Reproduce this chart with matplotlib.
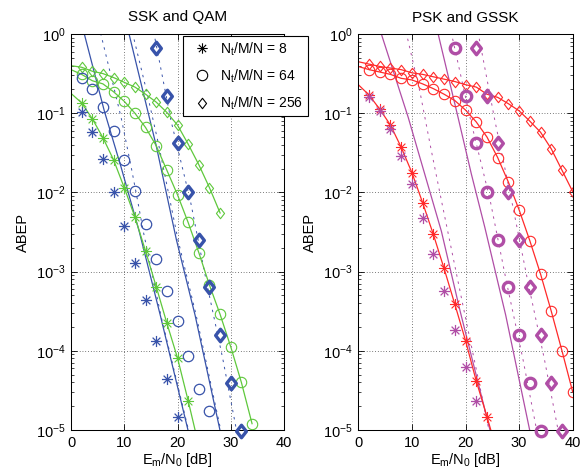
import numpy as np
import matplotlib
matplotlib.use("Agg")
import matplotlib.pyplot as plt
from matplotlib.path import Path
from matplotlib.lines import Line2D

plt.rcParams["font.family"] = ["Liberation Sans", "DejaVu Sans"]
plt.rcParams["mathtext.fontset"] = "custom"
plt.rcParams["mathtext.rm"] = "Liberation Sans"
plt.rcParams["mathtext.default"] = "regular"
plt.rcParams["font.size"] = 10

# ---------------- left panel: SSK (blue) and QAM (green) ----------------
# values are log10(ABEP)
ssk_sim8_x = np.arange(2, 21, 2)
ssk_sim8 = [-0.99, -1.24, -1.58, -1.99, -2.43, -2.89, -3.36, -3.88, -4.35, -4.84]
ssk_sim64_x = np.arange(2, 27, 2)
ssk_sim64 = [-0.55, -0.70, -0.92, -1.22, -1.59, -1.98, -2.40, -2.84, -3.25,
             -3.63, -4.07, -4.48, -4.76]
ssk_sim256_x = np.arange(16, 33, 2)
ssk_sim256 = [-0.18, -0.78, -1.38, -1.99, -2.60, -3.20, -3.80, -4.41, -5.01]

ssk_a_x = [2.0, 2.5, 6.25, 9.4, 12.8, 16.8, 22.0, 22.5]
ssk_a = [0.13, 0.0, -0.97, -1.68, -2.49, -3.56, -5.01, -5.14]
ssk_a_bound_x = [5.2, 5.6, 9.4, 11.3, 12.5, 13.6, 16.9, 22.1, 22.6]
ssk_a_bound = [0.1, 0.0, -1.05, -1.68, -2.1, -2.5, -3.56, -5.01, -5.14]
ssk_b_x = [10.5, 10.9, 13.5, 16.0, 19.8, 23.3, 28.0, 28.4]
ssk_b = [0.11, 0.0, -0.72, -1.41, -2.60, -3.55, -5.01, -5.13]
ssk_b_bound_x = [11.2, 11.6, 14.2, 16.5, 20.1, 23.5, 28.15, 28.5]
ssk_b_bound = [0.11, 0.0, -0.72, -1.41, -2.60, -3.55, -5.01, -5.12]
ssk_c_bound_x = [15.2, 15.6, 18.8, 22.4, 25.5, 28.5, 31.1, 31.5]
ssk_c_bound = [0.12, 0.0, -1.1, -2.1, -3.15, -4.1, -5.01, -5.14]

qam8_x = np.arange(0, 25, 2)
qam8 = [-0.75, -0.87, -1.07, -1.31, -1.59, -1.94, -2.31, -2.74, -3.19, -3.65,
        -4.09, -4.63, -5.2]
qam64_x = np.arange(0, 35, 2)
qam64 = [-0.45, -0.51, -0.59, -0.63, -0.73, -0.85, -1.0, -1.18, -1.41, -1.72,
         -2.03, -2.38, -2.76, -3.17, -3.54, -3.95, -4.40, -4.92]
qam256_x = np.arange(0, 29, 2)
qam256 = [-0.40, -0.42, -0.47, -0.50, -0.55, -0.61, -0.67, -0.76, -0.86, -0.99,
          -1.15, -1.39, -1.65, -1.94, -2.26]

# ---------------- right panel: PSK (red) and GSSK (magenta) ----------------
psk8_x = np.arange(0, 27, 2)
psk8 = [-0.64, -0.77, -0.95, -1.15, -1.43, -1.75, -2.13, -2.53, -2.96, -3.41,
        -3.87, -4.38, -4.83, -5.3]
psk64_x = np.arange(0, 41, 2)
psk64 = [-0.41, -0.45, -0.48, -0.51, -0.56, -0.58, -0.63, -0.69, -0.76, -0.84,
         -0.96, -1.11, -1.30, -1.56, -1.87, -2.22, -2.61, -3.03, -3.50, -4.0, -4.52]
psk256_x = np.arange(0, 41, 2)
psk256 = [-0.35, -0.38, -0.41, -0.43, -0.45, -0.49, -0.51, -0.54, -0.57, -0.60,
          -0.64, -0.67, -0.76, -0.80, -0.88, -0.97, -1.10, -1.24, -1.45, -1.72, -1.99]

gssk_sim8_x = np.arange(2, 23, 2)
gssk_sim8 = [-0.79, -0.97, -1.20, -1.54, -1.90, -2.32, -2.78, -3.24, -3.74, -4.21, -4.63]
gssk_sim64_x = np.arange(18, 35, 2)
gssk_sim64 = [-0.18, -0.78, -1.38, -1.99, -2.60, -3.20, -3.80, -4.41, -5.01]
gssk_sim256_x = np.arange(22, 39, 2)
gssk_sim256 = [-0.18, -0.78, -1.38, -1.99, -2.60, -3.20, -3.80, -4.41, -5.01]

gssk_a_x = [3.9, 4.3, 9.3, 12.4, 15.5, 19.0, 24.6, 25.0]
gssk_a = [0.1, 0.0, -1.05, -1.77, -2.49, -3.5, -5.01, -5.12]
gssk_a_bound_x = [8.6, 9.0, 11.5, 13.5, 15.5, 19.9, 24.4, 24.8]
gssk_a_bound = [0.12, 0.0, -0.73, -1.43, -2.1, -3.55, -5.01, -5.13]
gssk_b_x = [14.5, 14.9, 18.6, 21.1, 23.6, 27.5, 32.0, 32.4]
gssk_b = [0.11, 0.0, -1.05, -1.77, -2.44, -3.55, -5.01, -5.13]
gssk_b_bound_x = [17.0, 17.4, 21.0, 24.6, 27.7, 30.7, 33.3, 33.7]
gssk_b_bound = [0.12, 0.0, -1.1, -2.1, -3.15, -4.1, -5.01, -5.14]
gssk_c_bound_x = [22.0, 22.4, 25.5, 28.6, 31.7, 34.7, 37.3, 37.7]
gssk_c_bound = [0.12, 0.0, -1.1, -2.1, -3.15, -4.1, -5.01, -5.14]

legend_labels = [r"N$_{t}$/M/N = 8", r"N$_{t}$/M/N = 64", r"N$_{t}$/M/N = 256"]

BLUE = "#3853aa"
GREEN = "#5fc83c"
RED = "#ff2a2a"
MAGENTA = "#b04ea6"

# MATLAB-like asterisk and diamond markers
STAR = Path([(-1, 0), (1, 0), (0, -1), (0, 1), (-0.7, -0.7), (0.7, 0.7),
             (-0.7, 0.7), (0.7, -0.7)],
            [Path.MOVETO, Path.LINETO] * 4)
DIAMOND = Path([(0, 1), (0.78, 0), (0, -1), (-0.78, 0), (0, 1)],
               [Path.MOVETO, Path.LINETO, Path.LINETO, Path.LINETO, Path.CLOSEPOLY])
DOTTED = (0, (2.5, 5))


def logv(v):
    return 10.0 ** np.asarray(v)


def marker_line(ax, x, y, color, marker, ms):
    ax.plot(x, logv(y), "-", color=color, lw=0.9, marker=marker, ms=ms,
            mfc="none", mec=color, mew=0.8, markevery=slice(1, None))


def sim_points(ax, x, y, color, marker, ms, bold=False):
    ax.plot(x, logv(y), ls="none", marker=marker, ms=ms, mfc="none", mec=color,
            mew=2.4 if bold else 0.9, clip_on=not bold, zorder=4)


def style_axes(ax, title):
    ax.set_yscale("log")
    ax.set_xlim(0, 40)
    ax.set_ylim(1e-5, 1)
    ax.set_xticks([0, 10, 20, 30, 40])
    ax.grid(True, which="major", color="k", ls=(0, (1, 3)), lw=0.5)
    ax.tick_params(which="both", direction="in", top=True, right=True,
                   labelsize=10.5, pad=4)
    ax.tick_params(which="major", length=4, width=0.6)
    ax.tick_params(which="minor", length=2, width=0.5)
    ax.minorticks_off()
    ax.yaxis.set_minor_locator(matplotlib.ticker.LogLocator(base=10, subs=np.arange(2, 10), numticks=20))
    ax.yaxis.set_minor_formatter(matplotlib.ticker.NullFormatter())
    for s in ax.spines.values():
        s.set_linewidth(0.75)
    ax.set_title(title, fontsize=11, pad=9)
    ax.set_ylabel("ABEP", fontsize=10.5, labelpad=4)
    ax.set_xlabel(r"E$_{m}$/N$_{0}$ [dB]", fontsize=10.5, labelpad=1)


fig = plt.figure(figsize=(5.85, 4.75), dpi=100)
ax1 = fig.add_axes([71 / 585, 45 / 475, 213 / 585, 396 / 475])
ax2 = fig.add_axes([358.3 / 585, 45 / 475, 214.4 / 585, 396 / 475])

# left panel
ax1.plot(ssk_a_x, logv(ssk_a), "-", color=BLUE, lw=0.9)
ax1.plot(ssk_a_bound_x, logv(ssk_a_bound), ls=DOTTED, color=BLUE, lw=0.7)
ax1.plot(ssk_b_x, logv(ssk_b), "-", color=BLUE, lw=0.9)
ax1.plot(ssk_b_bound_x, logv(ssk_b_bound), ls=DOTTED, color=BLUE, lw=0.7)
ax1.plot(ssk_c_bound_x, logv(ssk_c_bound), ls=DOTTED, color=BLUE, lw=0.7)
marker_line(ax1, qam8_x, qam8, GREEN, STAR, 8)
marker_line(ax1, qam64_x, qam64, GREEN, "o", 7.5)
marker_line(ax1, qam256_x, qam256, GREEN, DIAMOND, 7.5)
sim_points(ax1, ssk_sim8_x, ssk_sim8, BLUE, STAR, 8)
sim_points(ax1, ssk_sim64_x, ssk_sim64, BLUE, "o", 7.5)
sim_points(ax1, ssk_sim256_x, ssk_sim256, BLUE, DIAMOND, 9, bold=True)
style_axes(ax1, "SSK and QAM")

# right panel
ax2.plot(gssk_a_x, logv(gssk_a), "-", color=MAGENTA, lw=0.9)
ax2.plot(gssk_a_bound_x, logv(gssk_a_bound), ls=DOTTED, color=MAGENTA, lw=0.7)
ax2.plot(gssk_b_x, logv(gssk_b), "-", color=MAGENTA, lw=0.9)
ax2.plot(gssk_b_bound_x, logv(gssk_b_bound), ls=DOTTED, color=MAGENTA, lw=0.7)
ax2.plot(gssk_c_bound_x, logv(gssk_c_bound), ls=DOTTED, color=MAGENTA, lw=0.7)
sim_points(ax2, gssk_sim8_x, gssk_sim8, MAGENTA, STAR, 8)
marker_line(ax2, psk8_x, psk8, RED, STAR, 8)
marker_line(ax2, psk64_x, psk64, RED, "o", 7.5)
marker_line(ax2, psk256_x, psk256, RED, DIAMOND, 7.5)
sim_points(ax2, gssk_sim64_x, gssk_sim64, MAGENTA, "o", 7.5, bold=True)
sim_points(ax2, gssk_sim256_x, gssk_sim256, MAGENTA, DIAMOND, 9, bold=True)
style_axes(ax2, "PSK and GSSK")

# legend (black markers), sticking out of the left axes like the original
handles = [Line2D([], [], ls="none", marker=m, ms=7.5, mfc="none", mec="k", mew=0.8)
           for m in (STAR, "o", DIAMOND)]
leg = ax1.legend(handles, legend_labels, loc="upper left",
                 bbox_to_anchor=(183 / 585, 1 - 36 / 475),
                 bbox_transform=fig.transFigure, borderaxespad=0,
                 fancybox=False, framealpha=1, edgecolor="k", fontsize=10,
                 handlelength=2.2, handletextpad=0.2, labelspacing=0.7,
                 borderpad=0.3)
leg.get_frame().set_linewidth(0.8)
leg.set_zorder(10)

fig.savefig("out.png", dpi=100)
